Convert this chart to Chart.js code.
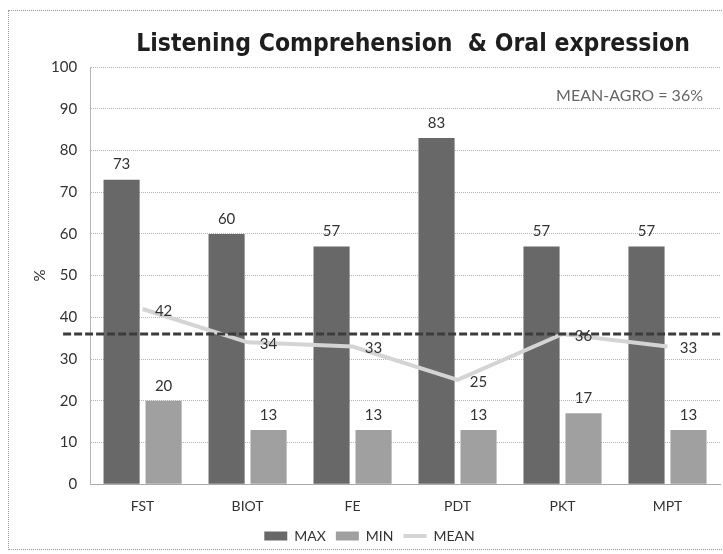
<!DOCTYPE html>
<html>
<head>
<meta charset="utf-8">
<script src="https://cdn.jsdelivr.net/npm/chart.js@4/dist/chart.umd.min.js"></script>
<style>
  html, body { margin: 0; padding: 0; background: #fff; }
  #wrap { position: absolute; left: 8px; top: 10px; width: 715px; height: 538px;
          border: 1px dotted #9a9a9a; border-right: none; }
  #c { position: absolute; left: 0; top: 0; }
</style>
</head>
<body>
<div id="wrap"></div>
<canvas id="c" width="723" height="554"></canvas>
<script>
// data
var categories = ['FST', 'BIOT', 'FE', 'PDT', 'PKT', 'MPT'];
var maxValues  = [73, 60, 57, 83, 57, 57];
var minValues  = [20, 13, 13, 13, 17, 13];
var meanValues = [42, 34, 33, 25, 36, 33];
var meanAgro = 36;
var yTicks = [0, 10, 20, 30, 40, 50, 60, 70, 80, 90, 100];
var titleText = 'Listening Comprehension  & Oral expression';

var tickFont = 'Lato';

// title, value labels + the MEAN-AGRO dashed line
var labelPlugin = {
    id: 'labels',
    afterDraw: function(chart) {
        var ctx = chart.ctx;
        var y = chart.scales.y;
        var area = chart.chartArea;
        ctx.save();

        ctx.font = 'bold 24.5px "DejaVu Sans Condensed", "DejaVu Sans"';
        ctx.fillStyle = '#1e1e1e';
        ctx.textAlign = 'center';
        ctx.textBaseline = 'middle';
        ctx.fillText(titleText, 413, 45);

        ctx.font = '15px ' + tickFont;
        ctx.fillStyle = '#333';
        [0, 1].forEach(function(di) {
            var meta = chart.getDatasetMeta(di);
            var vals = chart.data.datasets[di].data;
            meta.data.forEach(function(el, i) {
                ctx.fillText(vals[i], el.x, el.y - 15);
            });
        });
        var lm = chart.getDatasetMeta(2);
        lm.data.forEach(function(el, i) {
            ctx.fillText(meanValues[i], el.x + 21, el.y + 2);
        });

        // dashed mean line
        var py = y.getPixelForValue(meanAgro);
        ctx.strokeStyle = '#3c3c3c';
        ctx.lineWidth = 3;
        ctx.setLineDash([8, 3]);
        ctx.beginPath();
        ctx.moveTo(area.left - 27, py);
        ctx.lineTo(723, py);
        ctx.stroke();
        ctx.setLineDash([]);

        ctx.font = '16px ' + tickFont;
        ctx.fillStyle = '#666';
        ctx.textAlign = 'right';
        ctx.fillText('MEAN-AGRO = ' + meanAgro + '%', 703, y.getPixelForValue(93.2));
        ctx.restore();
    }
};

var ctx = document.getElementById('c').getContext('2d');
var chart = new Chart(ctx, {
    type: 'bar',
    data: {
        labels: categories,
        datasets: [{
            label: 'MAX',
            data: maxValues,
            backgroundColor: '#686868',
            pointStyle: 'rect',
            order: 1
        }, {
            label: 'MIN',
            data: minValues,
            backgroundColor: '#a0a0a0',
            pointStyle: 'rect',
            order: 1
        }, {
            type: 'line',
            label: 'MEAN',
            data: meanValues,
            borderColor: '#d4d4d4',
            backgroundColor: '#d4d4d4',
            borderWidth: 4,
            pointRadius: 0,
            pointStyle: 'line',
            tension: 0,
            order: 0
        }]
    },
    options: {
        responsive: false,
        animation: false,
        layout: { padding: { left: 19, right: 3, top: 67, bottom: 1 } },
        datasets: {
            bar: { categoryPercentage: 0.8, barPercentage: 0.86 }
        },
        plugins: {
            title: { display: false },
            legend: {
                position: 'bottom',
                labels: {
                    usePointStyle: true,
                    pointStyleWidth: 23,
                    boxHeight: 9,
                    color: '#333',
                    font: { family: tickFont, size: 14 },
                    padding: 10,
                    sort: function(a, b) { return a.datasetIndex - b.datasetIndex; }
                }
            },
            tooltip: { enabled: false }
        },
        scales: {
            x: {
                grid: { display: false },
                border: { color: '#aaa', dash: [1, 1] },
                ticks: { color: '#333', font: { family: tickFont, size: 14 }, padding: 6 },
                afterFit: function(axis) { axis.height -= 2; }
            },
            y: {
                min: 0,
                max: 100,
                afterBuildTicks: function(axis) {
                    axis.ticks = yTicks.map(function(v) { return { value: v }; });
                },
                afterFit: function(axis) { axis.width -= 11; },
                grid: { color: '#b5b5b5', drawTicks: false },
                border: { color: '#b5b5b5', dash: [1, 1] },
                ticks: { color: '#333', font: { family: tickFont, size: 15 }, padding: 13 },
                title: { display: true, text: '%', color: '#333', font: { family: tickFont, size: 15 }, padding: { top: 12, bottom: 0 } }
            }
        }
    },
    plugins: [labelPlugin]
});
</script>
</body>
</html>
